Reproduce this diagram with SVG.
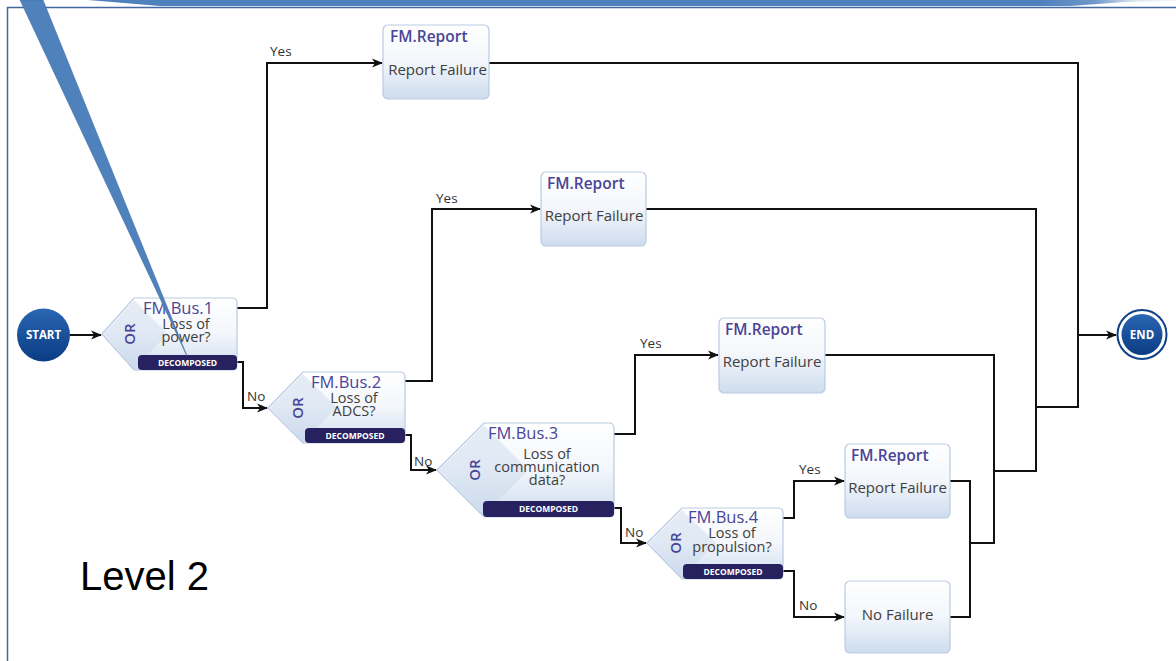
<svg xmlns="http://www.w3.org/2000/svg" width="1176" height="661" viewBox="0 0 1176 661">
<defs>
<style>
.node{fill:url(#nodeGrad);stroke:#b9cbe2;stroke-width:1.2}
.shade{fill:#c8d7eb;opacity:0.45}
.bar{fill:#27225f}
.bartxt{font-family:"Open Sans","Noto Sans",sans-serif;font-size:8.5px;font-weight:700;fill:#ffffff;text-anchor:middle}
.title{font-family:"Open Sans","Noto Sans",sans-serif;font-size:16.5px;fill:#4a4596}
.rtitle{font-family:"Open Sans","Noto Sans",sans-serif;font-size:15.5px;font-weight:600;fill:#4a4596}
.body{font-family:"Open Sans","Noto Sans",sans-serif;font-size:15px;fill:#404040;text-anchor:middle}
.q{font-family:"Open Sans","Noto Sans",sans-serif;font-size:14.5px;fill:#404040;text-anchor:middle}
.or{font-family:"Open Sans","Noto Sans",sans-serif;font-size:15px;font-weight:600;fill:#4a4596;text-anchor:middle}
.lbl{font-family:"Open Sans","Noto Sans",sans-serif;font-size:13.5px;fill:#333333}
.conn{fill:none;stroke:#111111;stroke-width:2;stroke-linejoin:miter}
.arrow{marker-end:url(#ah)}
.term{font-family:"Open Sans","Noto Sans",sans-serif;font-size:11.5px;font-weight:700;fill:#ffffff;text-anchor:middle}
</style>
<linearGradient id="nodeGrad" x1="0" y1="0" x2="0" y2="1">
<stop offset="0" stop-color="#ffffff"/>
<stop offset="0.5" stop-color="#f3f6fb"/>
<stop offset="1" stop-color="#cddcee"/>
</linearGradient>
<linearGradient id="termGrad" x1="0" y1="0" x2="0" y2="1">
<stop offset="0" stop-color="#2a66b3"/>
<stop offset="1" stop-color="#0a3c82"/>
</linearGradient>
<linearGradient id="bandGrad" gradientUnits="userSpaceOnUse" x1="1040" y1="0" x2="1176" y2="0">
<stop offset="0" stop-color="#4f81bd"/>
<stop offset="0.4" stop-color="#6e97c9"/>
<stop offset="0.7" stop-color="#dbe6f3"/>
<stop offset="1" stop-color="#f4f7fb"/>
</linearGradient>
<marker id="ah" markerWidth="11" markerHeight="10" refX="10" refY="5" orient="auto" markerUnits="userSpaceOnUse">
<path d="M0,0.5 L11,5 L0,9.5 L3,5 Z" fill="#111111"/>
</marker>
</defs>

<rect x="0" y="0" width="1176" height="661" fill="#ffffff"/>
<!-- frame -->
<rect x="7.5" y="7.5" width="1200" height="700" fill="#ffffff" stroke="#41689f" stroke-width="1.5"/>
<polygon points="88,0 1176,0 1176,1 1125,2 1070,6 160,6" fill="url(#bandGrad)"/>

<!-- connectors -->
<g id="connectors">
<path class="conn arrow" d="M70,335 L101,335"/>
<path class="conn arrow" d="M237,308 L267,308 L267,63 L382,63"/>
<path class="conn arrow" d="M237,362 L243,362 L243,408 L267,408"/>
<path class="conn arrow" d="M405,381 L432,381 L432,209 L540,209"/>
<path class="conn arrow" d="M405,435 L411,435 L411,470 L436,470"/>
<path class="conn arrow" d="M614,434 L635,434 L635,355 L718,355"/>
<path class="conn arrow" d="M614,508 L621,508 L621,543 L646,543"/>
<path class="conn arrow" d="M783,518 L794,518 L794,481 L844,481"/>
<path class="conn arrow" d="M783,571 L794,571 L794,617 L844,617"/>
<path class="conn" d="M489,63 L1078,63 L1078,407 L1036,407"/>
<path class="conn" d="M646,209 L1036,209 L1036,471 L994,471"/>
<path class="conn" d="M825,355 L994,355 L994,543 L970,543"/>
<path class="conn" d="M950,481 L970,481 L970,617 L950,617"/>
<path class="conn arrow" d="M1078,335 L1116,335"/>
<text class="lbl" x="270" y="56">Yes</text>
<text class="lbl" x="247" y="401">No</text>
<text class="lbl" x="436" y="203">Yes</text>
<text class="lbl" x="414" y="466">No</text>
<text class="lbl" x="640" y="348">Yes</text>
<text class="lbl" x="625" y="537">No</text>
<text class="lbl" x="799" y="474">Yes</text>
<text class="lbl" x="799" y="610">No</text>
</g>

<g id="start">
<circle cx="43.5" cy="335" r="26.5" fill="url(#termGrad)"/>
<text class="term" x="43.5" y="339">START</text>
</g>

<g id="end">
<circle cx="1142" cy="334.5" r="24.5" fill="#ffffff" stroke="#0f4186" stroke-width="2"/>
<circle cx="1142" cy="334.5" r="20.5" fill="url(#termGrad)"/>
<text class="term" x="1142" y="338.5">END</text>
</g>

<g id="bus1">
<path class="node" d="M102,334 L134,298 L232,298 Q237,298 237,303 L237,365 Q237,370 232,370 L134,370 Z"/>
<polygon class="shade" points="104,334 134,300 168,334 134,368"/>
<text class="or" transform="translate(135,334) rotate(-90)">OR</text>
<text class="title" x="143" y="314">FM.Bus.1</text>
<text class="q" x="186" y="329">Loss of</text>
<text class="q" x="186" y="342">power?</text>
<rect class="bar" x="138" y="355" width="99" height="15" rx="4"/>
<text class="bartxt" x="187.5" y="365.5">DECOMPOSED</text>
</g>

<g id="bus2">
<path class="node" d="M268,408 L303,372 L400,372 Q405,372 405,377 L405,438 Q405,443 400,443 L303,443 Z"/>
<polygon class="shade" points="270,408 303,374 337,408 303,441"/>
<text class="or" transform="translate(303,408) rotate(-90)">OR</text>
<text class="title" x="311" y="388">FM.Bus.2</text>
<text class="q" x="354" y="403">Loss of</text>
<text class="q" x="354" y="416">ADCS?</text>
<rect class="bar" x="305" y="428" width="100" height="15" rx="4"/>
<text class="bartxt" x="355" y="438.5">DECOMPOSED</text>
</g>

<g id="bus3">
<path class="node" d="M437,470 L484,423 L609,423 Q614,423 614,428 L614,512 Q614,517 609,517 L484,517 Z"/>
<polygon class="shade" points="439,470 484,425 528,470 484,515"/>
<text class="or" transform="translate(480,470) rotate(-90)">OR</text>
<text class="title" x="488" y="439">FM.Bus.3</text>
<text class="q" x="547" y="459">Loss of</text>
<text class="q" x="547" y="472">communication</text>
<text class="q" x="547" y="485">data?</text>
<rect class="bar" x="483" y="501" width="131" height="16" rx="4"/>
<text class="bartxt" x="548.5" y="512">DECOMPOSED</text>
</g>

<g id="bus4">
<path class="node" d="M647,543 L682,508 L778,508 Q783,508 783,513 L783,574 Q783,579 778,579 L682,579 Z"/>
<polygon class="shade" points="649,543 682,510 716,543 682,577"/>
<text class="or" transform="translate(681,543) rotate(-90)">OR</text>
<text class="title" x="688" y="523">FM.Bus.4</text>
<text class="q" x="732" y="538">Loss of</text>
<text class="q" x="732" y="552">propulsion?</text>
<rect class="bar" x="683" y="564" width="100" height="15" rx="4"/>
<text class="bartxt" x="733" y="574.5">DECOMPOSED</text>
</g>

<g id="report1">
<rect class="node" x="383" y="25" width="106" height="74" rx="5"/>
<text class="rtitle" x="390" y="42">FM.Report</text>
<text class="body" x="437.5" y="75">Report Failure</text>
</g>
<g id="report2">
<rect class="node" x="541" y="172" width="105" height="74" rx="5"/>
<text class="rtitle" x="547" y="189">FM.Report</text>
<text class="body" x="594" y="221">Report Failure</text>
</g>
<g id="report3">
<rect class="node" x="719" y="318" width="106" height="75" rx="5"/>
<text class="rtitle" x="725" y="335">FM.Report</text>
<text class="body" x="772" y="367">Report Failure</text>
</g>
<g id="report4">
<rect class="node" x="845" y="444" width="105" height="74" rx="5"/>
<text class="rtitle" x="851" y="461">FM.Report</text>
<text class="body" x="897.5" y="493">Report Failure</text>
</g>
<g id="nofailure">
<rect class="node" x="845" y="581" width="105" height="72" rx="5"/>
<text class="body" x="897.5" y="620">No Failure</text>
</g>

<text x="80" y="590" font-family="Liberation Sans, Arial, sans-serif" font-size="40" fill="#000000">Level 2</text>

<!-- callout tail -->
<polygon points="20,0 43,0 187,356" fill="#4f81bd" stroke="#3f6ea8" stroke-width="0.6"/>
</svg>
